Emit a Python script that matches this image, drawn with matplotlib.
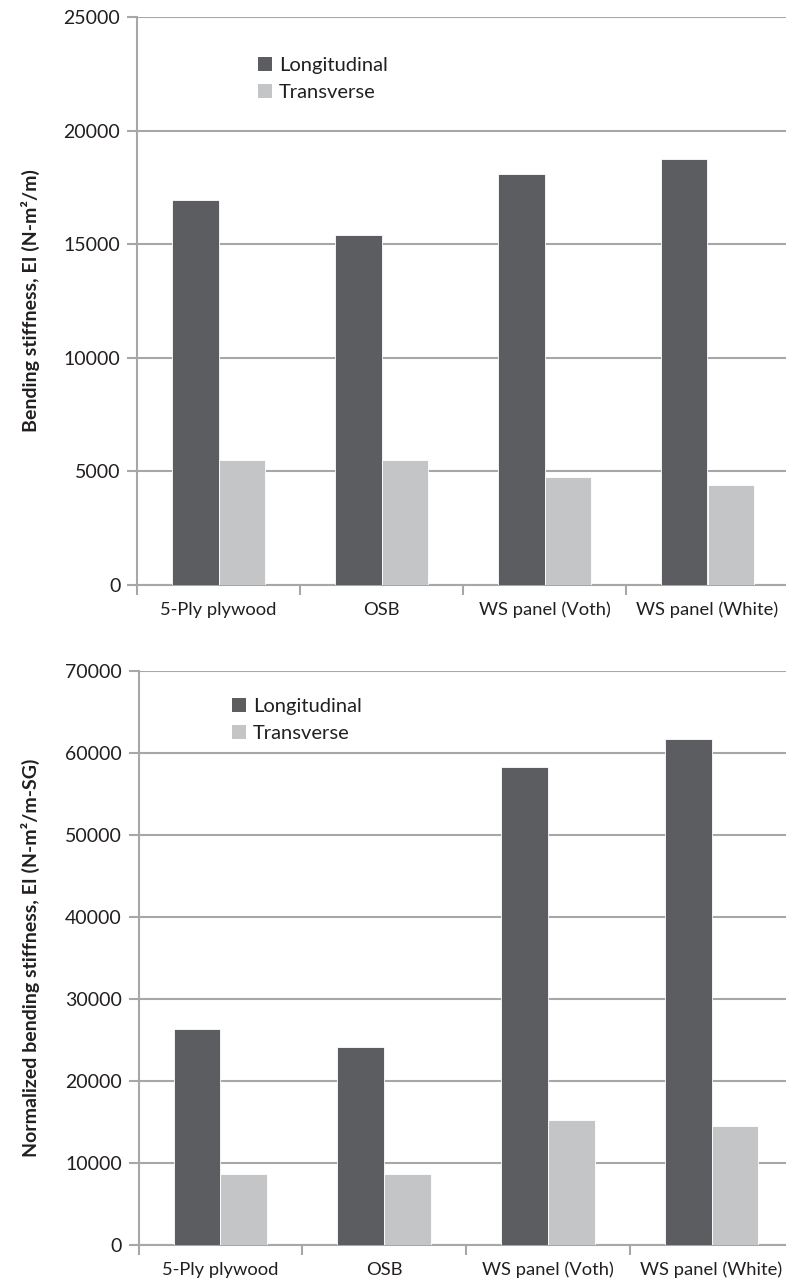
import matplotlib
matplotlib.use("Agg")
import matplotlib.pyplot as plt
import numpy as np
from matplotlib.patches import Patch

categories = ["5-Ply plywood", "OSB", "WS panel (Voth)", "WS panel (White)"]
series_names = ["Longitudinal", "Transverse"]

stiff_long = [16950, 15420, 18080, 18750]
stiff_trans = [5500, 5500, 4750, 4400]

norm_long = [26400, 24100, 58300, 61700]
norm_trans = [8600, 8600, 15200, 14500]

top_yticks = [0, 5000, 10000, 15000, 20000, 25000]
bot_yticks = [0, 10000, 20000, 30000, 40000, 50000, 60000, 70000]

ylabel_top = "Bending stiffness, EI (N-m²/m)"
ylabel_bot = "Normalized bending stiffness, EI (N-m²/m-SG)"

DARK = "#5c5d61"
LIGHT = "#c4c5c7"
GRID = "#a7a7a7"
TXT = "#231f20"

plt.rcParams['font.family'] = ['Lato', 'DejaVu Sans']
FS = 14.5
XFS = 13.2
YFS = 14
plt.rcParams['font.size'] = FS

W, H = 786, 1283
fig = plt.figure(figsize=(W / 100, H / 100), dpi=100)


def make_axes(rect, longv, transv, yticks, ylabel, leg_xy):
    ax = fig.add_axes(rect)
    x = np.arange(len(categories))
    w = 0.2857
    ax.bar(x - w / 2, longv, w, color=DARK, edgecolor="white", linewidth=0.6, zorder=3)
    ax.bar(x + w / 2, transv, w, color=LIGHT, edgecolor="white", linewidth=0.6, zorder=3)
    ax.set_xlim(-0.5, len(categories) - 0.5)
    ax.set_ylim(yticks[0], yticks[-1])
    ax.set_yticks(yticks)
    ax.set_yticklabels([str(t) for t in yticks], color=TXT, fontsize=14)
    ax.yaxis.grid(True, color=GRID, linewidth=1.5, zorder=0)
    ax.set_axisbelow(True)
    ax.set_xticks(np.arange(len(categories) + 1) - 0.5)
    ax.set_xticklabels([])
    ax.set_xticks(x, minor=True)
    ax.set_xticklabels(categories, minor=True, color=TXT, fontsize=XFS)
    ax.tick_params(axis='x', which='major', length=7, width=1.5, color=GRID, direction='out')
    ax.tick_params(axis='x', which='minor', length=0, pad=12)
    ax.tick_params(axis='y', length=7, width=1.5, color=GRID, direction='out', pad=5)
    for s in ['top', 'right']:
        ax.spines[s].set_visible(False)
    ax.spines['left'].set_color(GRID)
    ax.spines['left'].set_linewidth(1.5)
    ax.spines['bottom'].set_color(GRID)
    ax.spines['bottom'].set_linewidth(1.5)
    ax.set_ylabel(ylabel, fontweight='bold', color=TXT, fontsize=YFS)
    handles = [Patch(facecolor=DARK, edgecolor='none'), Patch(facecolor=LIGHT, edgecolor='none')]
    leg = ax.legend(handles, series_names, loc='upper left', bbox_to_anchor=leg_xy,
                    frameon=False, handlelength=0.7, handleheight=0.7,
                    handletextpad=0.35, labelspacing=0.5, borderpad=0, borderaxespad=0,
                    fontsize=FS)
    for t in leg.get_texts():
        t.set_color(TXT)
    return ax


top_rect = [137 / W, (H - 585) / H, 652 / W, (585 - 17) / H]
bot_rect = [138.5 / W, (H - 1245) / H, 655 / W, (1245 - 671) / H]

ax1 = make_axes(top_rect, stiff_long, stiff_trans, top_yticks, ylabel_top, (0.185, 0.93))
ax2 = make_axes(bot_rect, norm_long, norm_trans, bot_yticks, ylabel_bot, (0.142, 0.953))

ax1.yaxis.set_label_coords((40 - 137) / 652, 0.5)
ax2.yaxis.set_label_coords((40 - 138.5) / 655, 0.5)

fig.savefig("out.png", dpi=100)
